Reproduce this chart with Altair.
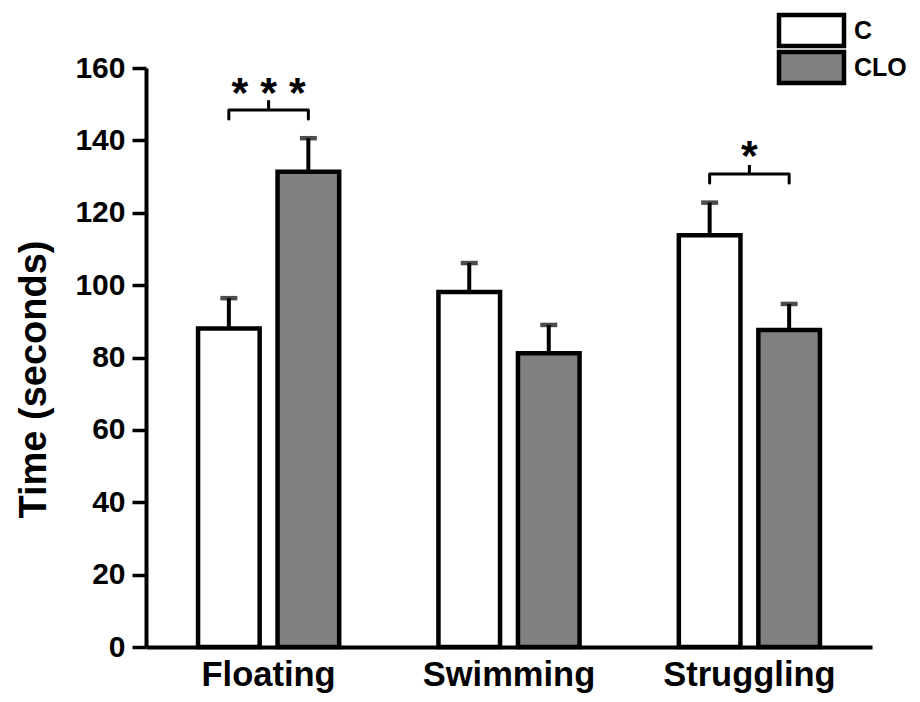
import altair as alt
import pandas as pd

# ---- data ----
categories = ["Floating", "Swimming", "Struggling"]
groups = ["C", "CLO"]
means_c = [88.0, 98.1, 113.8]
means_clo = [131.3, 81.2, 87.6]
sem_c = [8.4, 8.0, 9.0]
sem_clo = [9.3, 7.8, 7.2]

# significance annotations
bracket_cats = ["Floating", "Struggling"]
bracket_y = [148.4, 130.7]
bracket_end_y = [145.9, 128.2]
bracket_tip_y = [151.1, 133.2]
star_labels = ["* * *", "*"]
star_y = [149.2, 131.8]

FONT = "Liberation Sans"

rows = []
for i, cat in enumerate(categories):
    rows.append({"category": cat, "group": "C", "mean": means_c[i], "upper": means_c[i] + sem_c[i]})
    rows.append({"category": cat, "group": "CLO", "mean": means_clo[i], "upper": means_clo[i] + sem_clo[i]})
df = pd.DataFrame(rows)

brows = []
for i, cat in enumerate(bracket_cats):
    pts = [("C", bracket_end_y[i]), ("C", bracket_y[i]), ("CLO", bracket_y[i]), ("CLO", bracket_end_y[i])]
    for k, (g, y) in enumerate(pts):
        brows.append({"bracket": cat, "category": cat, "group": g, "y": y, "order": k})
bdf = pd.DataFrame(brows)

tdf = pd.DataFrame({"category": bracket_cats, "y": bracket_y, "tip": bracket_tip_y,
                    "label": star_labels, "ty": star_y})

xscale = alt.Scale(domain=categories, paddingInner=0.413, paddingOuter=0.2165)
xoff_scale = alt.Scale(domain=groups, paddingInner=0.225, paddingOuter=0)
yscale = alt.Scale(domain=[0, 160], nice=False, zero=True)

x_enc = alt.X("category:N", scale=xscale, sort=categories,
              axis=alt.Axis(title=None, ticks=False, labelAngle=0, labelFontSize=34.5,
                            labelFont=FONT, labelFontWeight="bold", labelColor="black",
                            labelPadding=11, domainWidth=4, domainColor="black"))
y_axis = alt.Axis(values=[0, 20, 40, 60, 80, 100, 120, 140, 160], tickSize=14, tickWidth=3.5,
                  tickColor="black", domainWidth=4, domainColor="black", grid=False,
                  labelFontSize=30, labelFont=FONT, labelFontWeight="bold", labelColor="black",
                  labelPadding=7, title="Time (seconds)", titleFont=FONT, titleFontSize=38,
                  titleFontWeight="bold", titleColor="black", titleX=-112, titleY=311,
                  titleBaseline="middle", titleAlign="center")

xo = alt.XOffset("group:N", scale=xoff_scale)

bars = alt.Chart(df).mark_bar(stroke="black", strokeWidth=4.5).encode(
    x=x_enc,
    xOffset=xo,
    y=alt.Y("mean:Q", scale=yscale, axis=y_axis),
    fill=alt.Fill("group:N", scale=alt.Scale(domain=groups, range=["#ffffff", "#808080"]),
                  legend=alt.Legend(title=None, orient="none", legendX=653, legendY=-50,
                                    symbolType="M-6.5,-3.1H6.5V3.1H-6.5Z", symbolSize=100,
                                    symbolStrokeColor="black", symbolStrokeWidth=4.5,
                                    symbolOpacity=1, labelFont=FONT, labelFontSize=25,
                                    labelFontWeight="bold", labelColor="black",
                                    labelOffset=30, rowPadding=-21, padding=0)),
)

err = alt.Chart(df).mark_rule(color="black", strokeWidth=4).encode(
    x=x_enc, xOffset=xo,
    y=alt.Y("mean:Q", scale=yscale), y2="upper:Q",
)
caps = alt.Chart(df).mark_tick(color="black", orient="horizontal", size=17, thickness=4.5).encode(
    x=x_enc, xOffset=xo,
    y=alt.Y("upper:Q", scale=yscale),
)

brackets = alt.Chart(bdf).mark_line(color="black", strokeWidth=3, strokeJoin="round",
                                    strokeCap="round").encode(
    x=x_enc, xOffset=xo,
    y=alt.Y("y:Q", scale=yscale),
    detail="bracket:N",
    order="order:Q",
)
tips = alt.Chart(tdf).mark_rule(color="black", strokeWidth=3).encode(
    x=x_enc,
    y=alt.Y("y:Q", scale=yscale), y2="tip:Q",
)
stars = alt.Chart(tdf).mark_text(font=FONT, fontSize=43, fontWeight="bold", color="black",
                                 baseline="alphabetic", align="center").encode(
    x=x_enc,
    y=alt.Y("ty:Q", scale=yscale),
    text="label:N",
)

chart = alt.layer(bars, err, caps, brackets, tips, stars).properties(
    width=726, height=579,
    padding={"left": 138, "top": 60, "right": 40, "bottom": 50},
    autosize=alt.AutoSizeParams(type="none"),
    background="white",
).configure_view(stroke=None)

chart.save("out.html", embed_options={"renderer": "svg", "actions": False})
